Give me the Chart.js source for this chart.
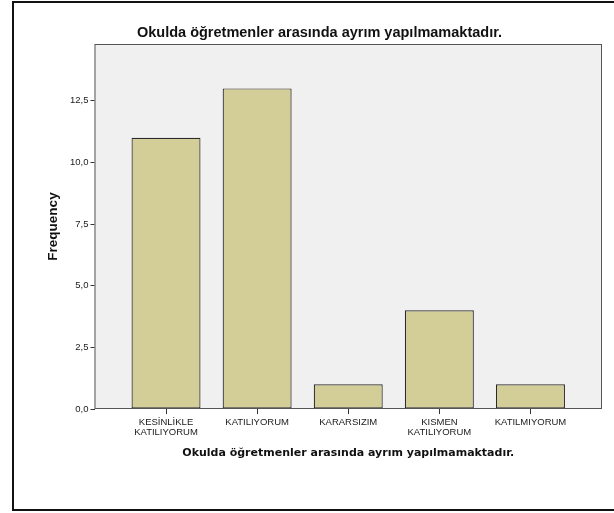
<!DOCTYPE html>
<html lang="tr">
<head>
  <meta charset="UTF-8">
  <title>Okulda öğretmenler arasında ayrım yapılmamaktadır.</title>
  <style>
    html, body {
      margin: 0;
      padding: 0;
      background: #fff;
      overflow: hidden;
    }

    .wrap {
      position: relative;
      width: 614px;
      height: 513px;
    }

    #chart {
      position: absolute;
      left: 0;
      top: 0;
    }

    .frame {
      position: absolute;
      left: 12px;
      top: 1px;
      width: 620px;
      height: 506px;
      border: 2px solid #111;
      pointer-events: none;
    }
  </style>
</head>
<body>
  <div class="wrap">
    <canvas id="chart" width="614" height="513"></canvas>
    <div class="frame"></div>
  </div>

  <script src="https://cdn.jsdelivr.net/npm/chart.js"></script>
  <script>
    const chartTitle = 'Okulda öğretmenler arasında ayrım yapılmamaktadır.';
    const categories = [
      ['KESİNLİKLE', 'KATILIYORUM'],
      ['KATILIYORUM'],
      ['KARARSIZIM'],
      ['KISMEN', 'KATILIYORUM'],
      ['KATILMIYORUM']
    ];
    const frequencies = [11, 13, 1, 4, 1];
    const yTickStep = 2.5;
    const yMax = 14.8;

    // plot box: grey fill under the bars, thin border on top
    const plotBox = {
      id: 'plotBox',
      beforeDatasetsDraw(chart) {
        const { ctx, chartArea: a } = chart;
        ctx.save();
        ctx.fillStyle = '#f0f0f0';
        ctx.fillRect(a.left, a.top, a.right - a.left, a.bottom - a.top);
        ctx.restore();
      },
      afterDraw(chart) {
        const { ctx, chartArea: a } = chart;
        ctx.save();
        ctx.strokeStyle = '#555';
        ctx.lineWidth = 1;
        ctx.strokeRect(a.left + 0.5, a.top + 0.5, a.right - a.left - 1, a.bottom - a.top - 1);
        ctx.restore();
      }
    };

    new Chart(document.getElementById('chart').getContext('2d'), {
      type: 'bar',
      data: {
        datasets: [{
          label: 'Frequency',
          data: frequencies.map((v, i) => ({ x: i, y: v })),
          backgroundColor: '#d3ce98',
          borderColor: '#2a2a2a',
          borderWidth: 1.2,
          borderSkipped: false,
          categoryPercentage: 1,
          barPercentage: 0.757
        }]
      },
      plugins: [plotBox],
      options: {
        responsive: false,
        animation: false,
        layout: {
          padding: { left: 37, right: 12, top: 0, bottom: 0 }
        },
        plugins: {
          legend: { display: false },
          tooltip: { enabled: false },
          title: {
            display: true,
            text: chartTitle,
            color: '#111',
            font: { family: 'Arial, "Liberation Sans"', size: 14.5, weight: 'bold' },
            padding: { top: 24, bottom: 2.6 }
          }
        },
        scales: {
          x: {
            type: 'linear',
            min: -0.785,
            max: 4.785,
            offset: false,
            afterBuildTicks(scale) {
              scale.ticks = categories.map((c, i) => ({ value: i }));
            },
            afterFit(scale) {
              scale.height = 104;
            },
            ticks: {
              autoSkip: false,
              maxRotation: 0,
              padding: 3,
              color: '#1a1a1a',
              font: { family: 'Arial, "Liberation Sans"', size: 9.5, lineHeight: 1.05 },
              callback: (v) => categories[v]
            },
            grid: {
              offset: false,
              drawOnChartArea: false,
              drawTicks: true,
              tickLength: 5,
              color: '#333'
            },
            border: { display: false },
            title: {
              display: true,
              text: chartTitle,
              color: '#111',
              font: { family: '"DejaVu Sans"', size: 11, weight: 'bold' },
              padding: { top: 0, bottom: 53.4 }
            }
          },
          y: {
            min: 0,
            max: yMax,
            afterFit(scale) {
              scale.width = 57.5;
            },
            ticks: {
              stepSize: yTickStep,
              includeBounds: false,
              padding: 2,
              color: '#1a1a1a',
              font: { family: 'Arial, "Liberation Sans"', size: 9.5 },
              callback: (v) => v.toFixed(1).replace('.', ',')
            },
            grid: {
              drawOnChartArea: false,
              drawTicks: true,
              tickLength: 4,
              color: '#333'
            },
            border: { display: false },
            title: {
              display: true,
              text: 'Frequency',
              color: '#111',
              font: { family: 'Arial, "Liberation Sans"', size: 13.5, weight: 'bold' },
              padding: { top: 8, bottom: 0 }
            }
          }
        }
      }
    });
  </script>
</body>
</html>
